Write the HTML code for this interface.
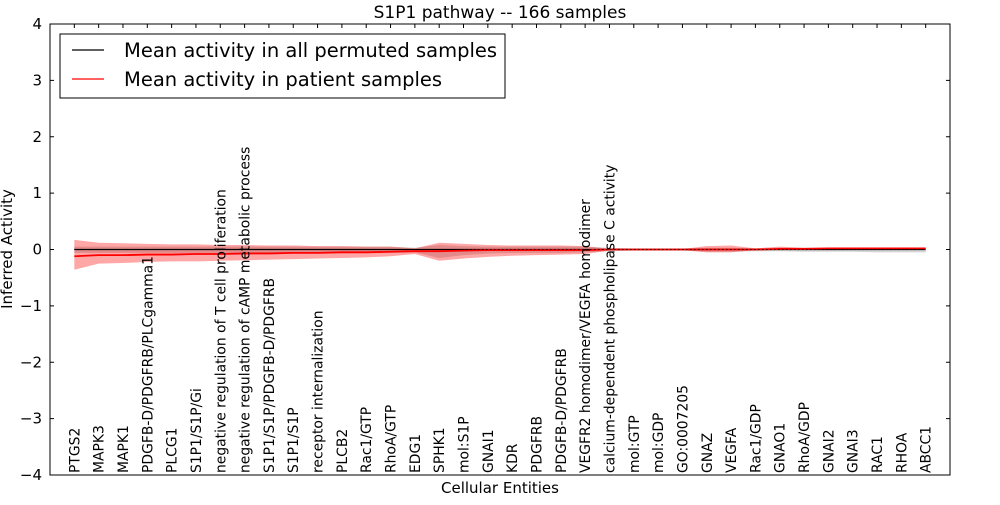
<!DOCTYPE html>
<html><head><meta charset="utf-8"><style>
body{margin:0;background:#fff;position:relative;}
svg text{font-family:"DejaVu Sans","Liberation Sans",sans-serif;}
</style></head><body>
<svg id="chart" width="1000" height="500">
<rect width="1000" height="500" fill="#fff"/>
<g id="bands"></g>
<g id="lines"></g>
<g id="axes"></g>
</svg>
<script>
const categories=["PTGS2","MAPK3","MAPK1","PDGFB-D/PDGFRB/PLCgamma1","PLCG1","S1P1/S1P/Gi","negative regulation of T cell proliferation","negative regulation of cAMP metabolic process","S1P1/S1P/PDGFB-D/PDGFRB","S1P1/S1P","receptor internalization","PLCB2","Rac1/GTP","RhoA/GTP","EDG1","SPHK1","mol:S1P","GNAI1","KDR","PDGFRB","PDGFB-D/PDGFRB","VEGFR2 homodimer/VEGFA homodimer","calcium-dependent phospholipase C activity","mol:GTP","mol:GDP","GO:0007205","GNAZ","VEGFA","Rac1/GDP","GNAO1","RhoA/GDP","GNAI2","GNAI3","RAC1","RHOA","ABCC1"];
const patientMean=[-0.12,-0.1,-0.1,-0.09,-0.09,-0.08,-0.08,-0.07,-0.07,-0.06,-0.06,-0.05,-0.05,-0.04,-0.03,-0.03,-0.02,-0.01,-0.01,-0.01,-0.01,-0.01,0,0,0,0,0,0,0,0.01,0.01,0.02,0.02,0.02,0.02,0.02];
const patientUpper=[0.17,0.12,0.11,0.1,0.09,0.09,0.08,0.08,0.07,0.07,0.06,0.06,0.05,0.05,0.02,0.12,0.1,0.08,0.07,0.07,0.07,0.06,0.01,0.01,0.01,0.01,0.06,0.07,0.02,0.05,0.03,0.03,0.03,0.03,0.03,0.03];
const patientLower=[-0.36,-0.25,-0.24,-0.22,-0.21,-0.21,-0.2,-0.19,-0.18,-0.17,-0.16,-0.15,-0.14,-0.12,-0.08,-0.2,-0.16,-0.13,-0.11,-0.1,-0.09,-0.08,-0.02,-0.01,-0.01,-0.01,-0.05,-0.05,-0.01,0,0,0.01,0.01,0.01,0.01,0.01];
const permMean=[0,0,0,0,0,0,0,0,0,0,0,0,0,0,0,0,0,0,0,0,0,0,0,0,0,0,0,0,0,0,0,0,0,0,0,0];
const permUpper=[0.05,0.05,0.05,0.05,0.05,0.05,0.05,0.05,0.05,0.05,0.05,0.05,0.05,0.05,0.03,0.08,0.06,0.05,0.05,0.05,0.05,0.05,0.03,0.02,0.02,0.02,0.03,0.03,0.02,0.03,0.03,0.03,0.03,0.03,0.03,0.03];
const permLower=[-0.06,-0.06,-0.06,-0.06,-0.06,-0.06,-0.06,-0.06,-0.06,-0.06,-0.06,-0.06,-0.06,-0.06,-0.05,-0.15,-0.1,-0.07,-0.06,-0.06,-0.06,-0.05,-0.03,-0.02,-0.02,-0.02,-0.04,-0.04,-0.03,-0.03,-0.04,-0.04,-0.04,-0.05,-0.05,-0.05];
const yTicks=[-4,-3,-2,-1,0,1,2,3,4];

const L=50,R=950,T=24,B=475;
const xs=i=>L+(i+1)*(R-L)/(categories.length+1);
const ys=v=>T+(4-v)*(B-T)/8;
const NS="http://www.w3.org/2000/svg";
function mk(tag,attrs,parent){const e=document.createElementNS(NS,tag);for(const k in attrs)e.setAttribute(k,attrs[k]);parent.appendChild(e);return e;}
const bands=document.getElementById('bands'),lines=document.getElementById('lines'),axes=document.getElementById('axes');
function band(up,lo,fill,op,name){
  let d=up.map((v,i)=>(i?'L':'M')+xs(i)+','+ys(v)).join('');
  for(let i=lo.length-1;i>=0;i--)d+='L'+xs(i)+','+ys(lo[i]);
  const p=mk('path',{d:d+'Z',fill:fill,'fill-opacity':op},bands);
  
  
}
band(permUpper,permLower,'#888',0.35,'permuted-band');
band(patientUpper,patientLower,'#f00',0.35,'patient-band');
function line(vals,stroke,name,w){
  const p=mk('polyline',{points:vals.map((v,i)=>xs(i)+','+ys(v)).join(' '),fill:'none',stroke:stroke,'stroke-width':w},lines);
  
  
}
line(permMean,'#000','permuted-mean-line',1.2);
line(patientMean,'#f00','patient-mean-line',1.8);
const z=mk('line',{x1:xs(0),x2:xs(categories.length-1),y1:ys(0),y2:ys(0),stroke:'#000','stroke-dasharray':'1,3','stroke-width':1},lines);


const fr=mk('rect',{x:L,y:T,width:R-L,height:B-T,fill:'none',stroke:'#000','stroke-width':1},axes);


yTicks.forEach(v=>{
  mk('line',{x1:L,x2:L+4,y1:ys(v),y2:ys(v),stroke:'#000'},axes);
  mk('line',{x1:R-4,x2:R,y1:ys(v),y2:ys(v),stroke:'#000'},axes);
  const t=mk('text',{x:L-8,y:ys(v)+5,'text-anchor':'end','font-size':15},axes);
  t.textContent=(v<0?'\u2212'+(-v):v);
  
  
});
categories.forEach((c,i)=>{
  const x=xs(i);
  mk('line',{x1:x,x2:x,y1:T,y2:T+4,stroke:'#000'},axes);
  const t=mk('text',{x:0,y:0,transform:`translate(${x+5},${B-2}) rotate(-90)`,'font-size':13.9},axes);
  t.textContent=c;
  
  
});
</script>
<svg style="position:absolute;left:0;top:0" width="1000" height="500">
<text x="500" y="18" text-anchor="middle" font-size="17">S1P1 pathway -- 166 samples</text>
<text x="500" y="493" text-anchor="middle" font-size="15">Cellular Entities</text>
<text transform="translate(12,249) rotate(-90)" text-anchor="middle" font-size="15">Inferred Activity</text>
<g>
<rect x="60" y="34" width="445" height="64" fill="#fff" stroke="#000"/>
<line x1="72" x2="104" y1="50" y2="50" stroke="#000" stroke-width="1.2"/>
<text x="124" y="57" font-size="19.5">Mean activity in all permuted samples</text>
<line x1="72" x2="104" y1="79" y2="79" stroke="#f00" stroke-width="1.2"/>
<text x="124" y="86" font-size="19.5">Mean activity in patient samples</text>
</g>
</svg>
</body></html>
